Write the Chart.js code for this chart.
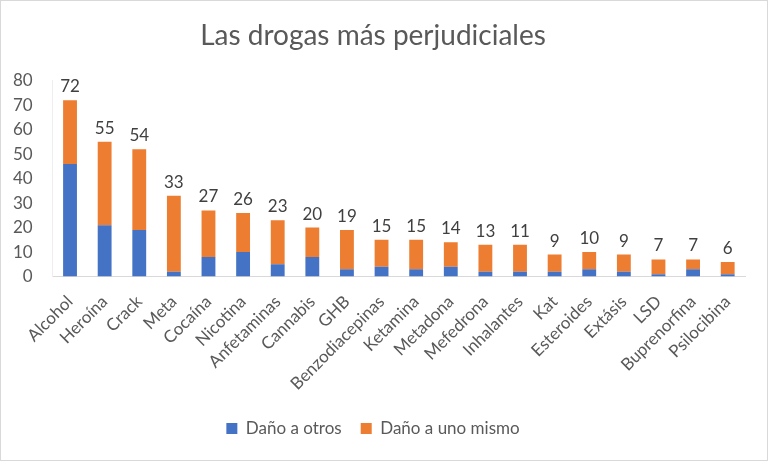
<!DOCTYPE html>
<html>
<head>
<meta charset="utf-8">
<script src="https://cdn.jsdelivr.net/npm/chart.js@4"></script>
<style>
  html, body { margin: 0; padding: 0; background: #fff; }
  #wrap { width: 768px; height: 461px; box-sizing: border-box; border: 1px solid #d9d9d9; }
</style>
</head>
<body>
<div id="wrap"><canvas id="chart" width="766" height="459"></canvas></div>
<script>
const categories = ["Alcohol", "Heroína", "Crack", "Meta", "Cocaína", "Nicotina", "Anfetaminas", "Cannabis", "GHB", "Benzodiacepinas", "Ketamina", "Metadona", "Mefedrona", "Inhalantes", "Kat", "Esteroides", "Extásis", "LSD", "Buprenorfina", "Psilocibina"];
const harmOthers = [46, 21, 19, 2, 8, 10, 5, 8, 3, 4, 3, 4, 2, 2, 2, 3, 2, 1, 3, 1];
const harmSelf = [26, 34, 33, 31, 19, 16, 18, 12, 16, 11, 12, 10, 11, 11, 7, 7, 7, 6, 4, 5];
const totalLabels = [72, 55, 54, 33, 27, 26, 23, 20, 19, 15, 15, 14, 13, 11, 9, 10, 9, 7, 7, 6];

const fontFamily = "Lato, 'Open Sans', sans-serif";
const textColor = "#595959";

// draws the total label above each stacked bar
const totalsPlugin = {
  id: "totals",
  afterDatasetsDraw(chart) {
    const ctx = chart.ctx;
    const meta = chart.getDatasetMeta(1);
    ctx.save();
    ctx.font = "17px " + fontFamily;
    ctx.fillStyle = "#404040";
    ctx.textAlign = "center";
    ctx.textBaseline = "bottom";
    meta.data.forEach((bar, i) => {
      ctx.fillText(totalLabels[i], bar.x, bar.y - 5);
    });
    ctx.restore();
  },
};

new Chart(document.getElementById("chart"), {
  type: "bar",
  data: {
    labels: categories,
    datasets: [
      {
        label: "Daño a otros",
        data: harmOthers,
        backgroundColor: "#4472C4",
        categoryPercentage: 1,
        barPercentage: 0.4,
      },
      {
        label: "Daño a uno mismo",
        data: harmSelf,
        backgroundColor: "#ED7D31",
        categoryPercentage: 1,
        barPercentage: 0.4,
      },
    ],
  },
  options: {
    responsive: false,
    animation: false,
    layout: { padding: { left: 0, right: 22, top: 0, bottom: 13 } },
    plugins: {
      title: {
        display: true,
        text: "Las drogas más perjudiciales",
        color: textColor,
        font: { family: fontFamily, size: 28, weight: "normal" },
        padding: { top: 18, bottom: 28 },
      },
      legend: {
        position: "bottom",
        labels: {
          color: textColor,
          font: { family: fontFamily, size: 17 },
          boxWidth: 11,
          boxHeight: 11,
          padding: 19,
        },
      },
      tooltip: { enabled: false },
    },
    scales: {
      x: {
        stacked: true,
        grid: { display: false },
        border: { color: "#d9d9d9" },
        ticks: {
          color: textColor,
          font: { family: fontFamily, size: 17 },
          minRotation: 45,
          maxRotation: 45,
          autoSkip: false,
          padding: 7,
        },
      },
      y: {
        stacked: true,
        min: 0,
        max: 80,
        grid: { display: false },
        border: { color: "#eeeeee" },
        ticks: {
          stepSize: 10,
          color: textColor,
          font: { family: fontFamily, size: 17 },
          padding: 12,
        },
      },
    },
  },
  plugins: [totalsPlugin],
});
</script>
</body>
</html>
